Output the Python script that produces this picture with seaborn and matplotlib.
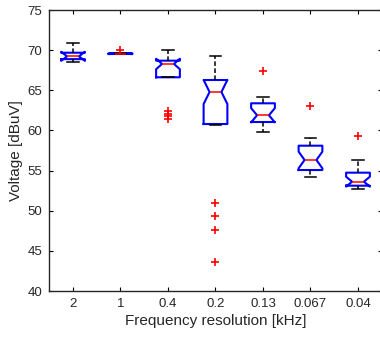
import numpy as np
import pandas as pd
import matplotlib
matplotlib.use("Agg")
import matplotlib.pyplot as plt
import seaborn as sns

# Frequency resolutions (kHz) and voltage samples (dBuV)
resolutions = ["2", "1", "0.4", "0.2", "0.13", "0.067", "0.04"]

v_2 = [68.56, 68.88, 69.23, 69.68, 70.85]
v_1 = [69.50, 69.50, 69.52, 69.55, 69.55, 69.58, 69.60, 69.70, 70.00]
v_04 = [61.43, 61.80, 62.05, 62.42, 66.62, 66.62, 66.62, 66.90, 67.30,
        67.60, 67.90, 68.10, 68.28, 68.35, 68.42, 68.50, 68.58, 68.64,
        68.69, 68.75, 68.85, 69.00, 69.30, 69.60, 69.98]
v_02 = [43.58, 47.64, 49.38, 51.00, 60.64, 60.70, 60.75, 60.78, 60.80,
        61.20, 61.80, 62.50, 63.10, 63.70, 64.20, 64.60, 64.79,
        65.00, 65.30, 65.60, 65.80, 66.00, 66.10, 66.20, 66.28,
        66.35, 66.50, 66.70, 67.00, 67.40, 67.90, 68.50, 69.27]
v_013 = [59.77, 60.30, 60.70, 60.95, 61.05, 61.30, 61.55, 61.75, 61.89,
         62.30, 62.80, 63.10, 63.38, 63.55, 63.80, 64.13, 67.44]
v_0067 = [54.20, 54.50, 54.75, 54.90, 55.00, 55.07, 55.40, 55.70, 56.00,
          56.20, 56.32, 56.60, 57.00, 57.50, 57.90, 58.10, 58.30, 58.50,
          58.80, 59.02, 63.10]
v_004 = [52.75, 52.90, 53.00, 53.08, 53.12, 53.30, 53.45, 53.55, 53.62,
         53.80, 54.10, 54.50, 54.74, 55.00, 55.50, 56.28, 59.35]

groups = [v_2, v_1, v_04, v_02, v_013, v_0067, v_004]
df = pd.DataFrame({
    "res": [r for r, g in zip(resolutions, groups) for _ in g],
    "v": [x for g in groups for x in g],
})

plt.rcParams["font.family"] = ["Liberation Sans", "DejaVu Sans"]
fig = plt.figure(figsize=(3.8, 3.38), dpi=100)
ax = fig.add_axes([0.1296, 0.139, 0.875, 0.8314])

sns.boxplot(
    data=df, x="res", y="v", order=resolutions, ax=ax,
    notch=True, width=0.5, fill=False, linewidth=1.3, whis=1.5,
    boxprops={"color": "#0000ff", "linewidth": 1.5},
    medianprops={"color": "#ff0000", "linewidth": 1.1},
    whiskerprops={"color": "black", "linestyle": (0, (3, 1.6)), "linewidth": 1.1},
    capprops={"color": "black", "linewidth": 1.1},
    flierprops={"marker": "+", "markeredgecolor": "#ff0000", "markersize": 6,
                "markeredgewidth": 1.2},
)

ax.set_xlim(-0.5, 6.5)
ax.set_ylim(40, 75)
ax.set_yticks(np.arange(40, 76, 5))
ax.set_xlabel("Frequency resolution [kHz]", fontsize=11, color="#262626", labelpad=3)
ax.set_ylabel("Voltage [dBuV]", fontsize=11, color="#262626", labelpad=3)
ax.tick_params(direction="in", top=True, right=True, length=3, width=0.8,
               labelsize=9.5, labelcolor="#262626", pad=5)
for s in ax.spines.values():
    s.set_linewidth(1.0)
    s.set_color("#262626")
ax.spines["right"].set_visible(False)
ax.grid(False)

fig.savefig("out.png", dpi=100)
